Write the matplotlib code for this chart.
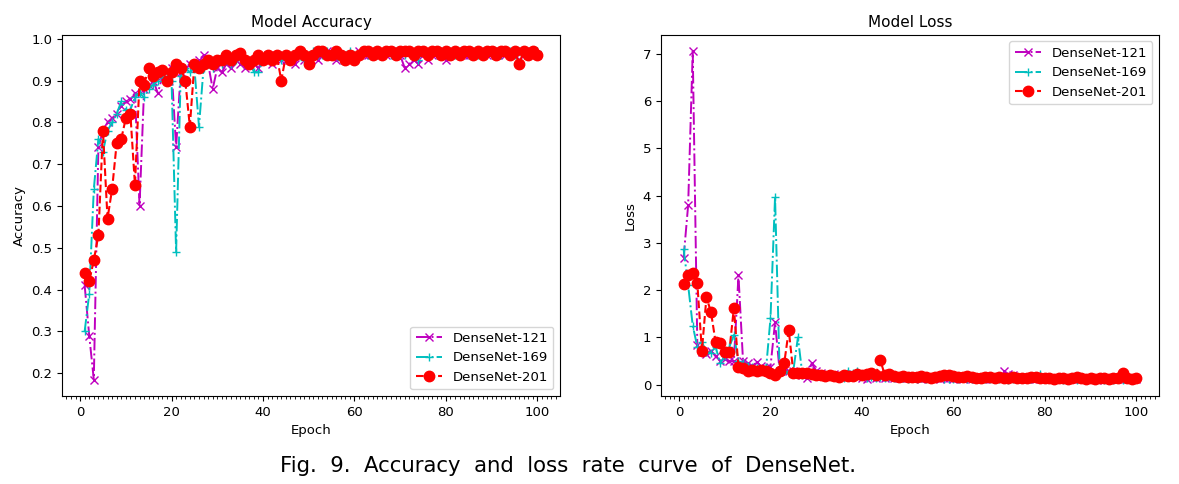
import matplotlib
matplotlib.use("Agg")
import matplotlib.pyplot as plt
from matplotlib.ticker import MultipleLocator

epochs = list(range(1, 101))
names = ["DenseNet-121", "DenseNet-169", "DenseNet-201"]

acc_121 = [0.41, 0.29, 0.185, 0.74, 0.78, 0.80, 0.81, 0.82, 0.84, 0.85,
           0.855, 0.87, 0.60, 0.88, 0.89, 0.90, 0.87, 0.91, 0.92, 0.93,
           0.74, 0.92, 0.93, 0.94, 0.93, 0.95, 0.96, 0.94, 0.88, 0.93,
           0.92, 0.94, 0.93, 0.95, 0.94, 0.93, 0.95, 0.94, 0.93, 0.95,
           0.96, 0.94, 0.96, 0.95, 0.95, 0.96, 0.94, 0.96, 0.95, 0.96,
           0.96, 0.95, 0.96, 0.97, 0.96, 0.95, 0.96, 0.96, 0.95, 0.96,
           0.97, 0.96, 0.96, 0.97, 0.96, 0.97, 0.96, 0.97, 0.96, 0.96,
           0.93, 0.94, 0.95, 0.94, 0.96, 0.95, 0.96, 0.97, 0.96, 0.95,
           0.97, 0.96, 0.97, 0.96, 0.96, 0.97, 0.96, 0.97, 0.96, 0.97,
           0.96, 0.97, 0.96, 0.97, 0.96, 0.97, 0.96, 0.97, 0.97, 0.96]
acc_169 = [0.30, 0.39, 0.64, 0.76, 0.73, 0.78, 0.80, 0.82, 0.85, 0.83,
           0.83, 0.86, 0.87, 0.86, 0.88, 0.89, 0.90, 0.91, 0.92, 0.90,
           0.49, 0.91, 0.93, 0.92, 0.93, 0.79, 0.93, 0.94, 0.93, 0.95,
           0.94, 0.95, 0.94, 0.95, 0.96, 0.94, 0.95, 0.92, 0.92, 0.95,
           0.96, 0.95, 0.96, 0.95, 0.96, 0.95, 0.96, 0.96, 0.95, 0.96,
           0.97, 0.96, 0.96, 0.97, 0.96, 0.96, 0.95, 0.96, 0.97, 0.96,
           0.96, 0.97, 0.96, 0.97, 0.96, 0.96, 0.97, 0.96, 0.97, 0.96,
           0.96, 0.97, 0.96, 0.95, 0.97, 0.96, 0.97, 0.96, 0.97, 0.96,
           0.97, 0.96, 0.97, 0.97, 0.96, 0.97, 0.96, 0.97, 0.97, 0.96,
           0.97, 0.96, 0.97, 0.97, 0.96, 0.97, 0.96, 0.97, 0.97, 0.97]
acc_201 = [0.44, 0.42, 0.47, 0.53, 0.78, 0.57, 0.64, 0.75, 0.76, 0.81,
           0.82, 0.65, 0.90, 0.89, 0.93, 0.91, 0.92, 0.925, 0.90, 0.92,
           0.94, 0.93, 0.90, 0.79, 0.94, 0.93, 0.94, 0.95, 0.94, 0.95,
           0.95, 0.96, 0.95, 0.96, 0.965, 0.95, 0.94, 0.95, 0.96, 0.95,
           0.96, 0.95, 0.96, 0.90, 0.96, 0.95, 0.96, 0.97, 0.96, 0.94,
           0.96, 0.97, 0.97, 0.96, 0.96, 0.97, 0.96, 0.95, 0.96, 0.95,
           0.96, 0.97, 0.97, 0.96, 0.97, 0.96, 0.97, 0.97, 0.96, 0.97,
           0.97, 0.97, 0.96, 0.97, 0.97, 0.96, 0.97, 0.97, 0.96, 0.97,
           0.96, 0.97, 0.96, 0.97, 0.97, 0.96, 0.97, 0.96, 0.97, 0.97,
           0.96, 0.97, 0.97, 0.96, 0.97, 0.94, 0.97, 0.96, 0.97, 0.96]

loss_121 = [2.68, 3.8, 7.05, 0.85, 0.70, 0.65, 0.72, 0.60, 0.50, 0.55,
            0.50, 0.50, 2.31, 0.50, 0.45, 0.40, 0.47, 0.40, 0.35, 0.38,
            1.32, 0.30, 0.35, 0.28, 0.30, 0.25, 0.20, 0.15, 0.45, 0.30,
            0.25, 0.22, 0.20, 0.22, 0.20, 0.18, 0.20, 0.22, 0.18, 0.15,
            0.13, 0.16, 0.15, 0.17, 0.15, 0.16, 0.14, 0.15, 0.14, 0.15,
            0.16, 0.14, 0.13, 0.14, 0.15, 0.14, 0.13, 0.15, 0.14, 0.13,
            0.14, 0.13, 0.14, 0.12, 0.13, 0.14, 0.12, 0.13, 0.14, 0.15,
            0.28, 0.22, 0.20, 0.15, 0.14, 0.13, 0.14, 0.12, 0.13, 0.14,
            0.12, 0.13, 0.12, 0.14, 0.13, 0.12, 0.13, 0.12, 0.13, 0.12,
            0.13, 0.12, 0.11, 0.13, 0.12, 0.12, 0.13, 0.12, 0.12, 0.13]
loss_169 = [2.87, 2.1, 1.25, 0.80, 0.90, 0.70, 0.68, 0.80, 0.45, 0.60,
            0.80, 1.05, 0.50, 0.45, 0.40, 0.38, 0.35, 0.33, 0.30, 1.40,
            3.97, 0.30, 0.28, 0.25, 0.30, 1.00, 0.20, 0.25, 0.20, 0.22,
            0.20, 0.18, 0.20, 0.16, 0.18, 0.15, 0.30, 0.25, 0.28, 0.18,
            0.15, 0.16, 0.14, 0.16, 0.15, 0.17, 0.15, 0.14, 0.15, 0.13,
            0.14, 0.13, 0.15, 0.12, 0.13, 0.14, 0.16, 0.13, 0.12, 0.13,
            0.12, 0.14, 0.13, 0.12, 0.13, 0.14, 0.12, 0.13, 0.12, 0.13,
            0.12, 0.11, 0.13, 0.14, 0.12, 0.13, 0.12, 0.14, 0.22, 0.13,
            0.12, 0.11, 0.12, 0.11, 0.13, 0.12, 0.11, 0.12, 0.11, 0.12,
            0.11, 0.12, 0.11, 0.12, 0.11, 0.12, 0.11, 0.12, 0.11, 0.12]
loss_201 = [2.12, 2.33, 2.36, 2.15, 0.72, 1.85, 1.53, 0.90, 0.88, 0.70,
            0.70, 1.63, 0.37, 0.35, 0.30, 0.32, 0.30, 0.32, 0.30, 0.25,
            0.20, 0.30, 0.45, 1.15, 0.25, 0.24, 0.25, 0.24, 0.22, 0.20,
            0.21, 0.19, 0.20, 0.18, 0.17, 0.20, 0.18, 0.19, 0.22, 0.20,
            0.22, 0.24, 0.20, 0.53, 0.20, 0.22, 0.18, 0.17, 0.19, 0.17,
            0.16, 0.17, 0.18, 0.16, 0.15, 0.17, 0.19, 0.21, 0.20, 0.18,
            0.16, 0.17, 0.18, 0.16, 0.15, 0.14, 0.16, 0.17, 0.15, 0.16,
            0.15, 0.14, 0.16, 0.15, 0.14, 0.15, 0.16, 0.17, 0.15, 0.14,
            0.15, 0.13, 0.14, 0.15, 0.13, 0.14, 0.17, 0.14, 0.13, 0.14,
            0.13, 0.14, 0.15, 0.13, 0.14, 0.15, 0.25, 0.14, 0.13, 0.14]

styles = [dict(color="m", marker="x", linestyle="-.", markersize=5.5, lw=1.4),
          dict(color="c", marker="+", linestyle="-.", markersize=5.5, lw=1.4),
          dict(color="r", marker="o", linestyle="--", markersize=7.5, lw=1.5)]


def panel(ax, series, title, ylabel, loc):
    for s, name, st in zip(series, names, styles):
        ax.plot(epochs, s, label=name, **st)
    ax.set_title(title, fontsize=11)
    ax.set_xlabel("Epoch", fontsize=9.5)
    ax.set_ylabel(ylabel, fontsize=9.5)
    ax.xaxis.set_major_locator(MultipleLocator(20))
    ax.xaxis.set_minor_locator(MultipleLocator(1))
    ax.tick_params(labelsize=9.5)
    ax.legend(loc=loc, fontsize=9.5)


fig = plt.figure(figsize=(11.79, 4.84), dpi=100)
ax1 = fig.add_axes([0.0526, 0.182, 0.4224, 0.746])
ax2 = fig.add_axes([0.5606, 0.182, 0.4224, 0.746])

panel(ax1, [acc_121, acc_169, acc_201], "Model Accuracy", "Accuracy", "lower right")
panel(ax2, [loss_121, loss_169, loss_201], "Model Loss", "Loss", "upper right")

fig.text(0.482, 0.037, "Fig.  9.  Accuracy  and  loss  rate  curve  of  DenseNet.",
         ha="center", va="center", fontsize=15.3, family="DejaVu Sans")

fig.savefig("out.png", dpi=100)
